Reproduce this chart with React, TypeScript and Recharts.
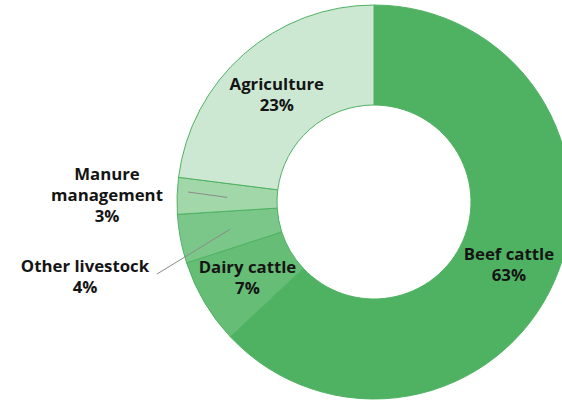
import { PieChart, Pie, Cell } from 'recharts';

const categories = ['Beef cattle', 'Dairy cattle', 'Other livestock', 'Manure management', 'Agriculture'];
const shares = [63, 7, 4, 3, 23];
const COLORS = ['#4fb263', '#66bd75', '#7bc78a', '#a2d7aa', '#cde8d2'];

const data = categories.map((name, i) => ({ name, value: shares[i] }));

// labels that sit outside the ring: leader end point and text lines
const OUTSIDE: Record<string, { lx: number; ly: number; tx: number; ty: number; lines: string[] }> = {
  'Other livestock': { lx: 157, ly: 274, tx: 85, ty: 265, lines: ['Other livestock'] },
  'Manure management': { lx: 188, ly: 192, tx: 107, ty: 173, lines: ['Manure', 'management'] },
};
// small vertical nudges for inside labels
const NUDGE: Record<string, number> = { 'Beef cattle': 4, Agriculture: 2, 'Dairy cattle': 0 };

const RAD = Math.PI / 180;
const LINE_H = 21;
const textStyle = { fontFamily: '"Open Sans", sans-serif', fontWeight: 700, fontSize: 16.8, fill: '#141414' };

function renderLabel(props: any) {
  const { cx, cy, midAngle, innerRadius, outerRadius, name, value } = props;
  const r = (innerRadius + outerRadius) / 2;
  const x = cx + r * Math.cos(-midAngle * RAD);
  const y = cy + r * Math.sin(-midAngle * RAD);
  const out = OUTSIDE[name];
  if (out) {
    const lines = [...out.lines, `${value}%`];
    return (
      <g>
        <line x1={x} y1={y} x2={out.lx} y2={out.ly} stroke="#8a8a8a" strokeWidth={1} />
        {lines.map((t, i) => (
          <text key={i} x={out.tx} y={out.ty + i * LINE_H} textAnchor="middle" dominantBaseline="central" style={textStyle}>{t}</text>
        ))}
      </g>
    );
  }
  const yy = y + (NUDGE[name] || 0);
  return (
    <g>
      <text x={x} y={yy - LINE_H / 2} textAnchor="middle" dominantBaseline="central" style={textStyle}>{name}</text>
      <text x={x} y={yy + LINE_H / 2} textAnchor="middle" dominantBaseline="central" style={textStyle}>{`${value}%`}</text>
    </g>
  );
}

export default function App() {
  return (
    <div style={{ position: 'absolute', left: 0, top: 0, width: 562, height: 401, background: '#fff' }}>
      <PieChart width={562} height={401} margin={{ top: 0, right: 0, bottom: 0, left: 0 }}>
        <Pie
          data={data}
          dataKey="value"
          nameKey="name"
          cx={374}
          cy={202}
          innerRadius={97}
          outerRadius={197}
          startAngle={90}
          endAngle={-270}
          stroke="#4fb263"
          strokeWidth={1}
          label={renderLabel}
          labelLine={false}
          isAnimationActive={false}
        >
          {data.map((_, i) => <Cell key={i} fill={COLORS[i]} />)}
        </Pie>
      </PieChart>
    </div>
  );
}
